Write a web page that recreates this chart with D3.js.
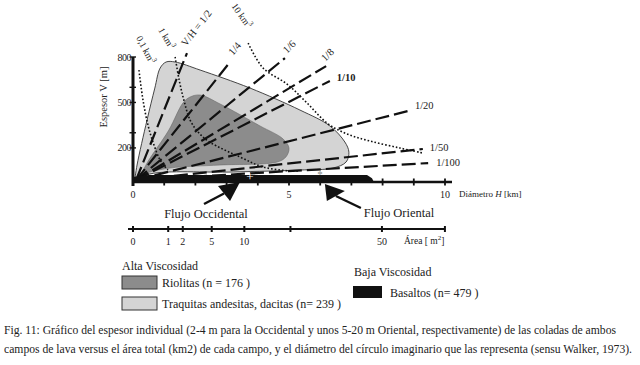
<!DOCTYPE html>
<html>
<head>
<meta charset="utf-8">
<script src="https://cdn.jsdelivr.net/npm/d3@7"></script>
<style>
    body { margin: 0; background: #fff; }
    svg { display: block; }
</style>
</head>
<body>
<div id="chart"></div>
<script>
// ---- data ----
const hTicks = [0, 1, 2, 3, 4, 5, 6, 7, 8, 9, 10];
const hLabels = [0, 5, 10];
const vTicks = [200, 300, 500, 600, 800];
const vLabels = [200, 500, 800];
const areaTicks = [0, 1, 2, 5, 10, 20, 50, 78.5];
const areaLabels = [0, 1, 2, 5, 10, 50];

// V/H ratio lines: end point of each dashed line [H km, V m]
const ratioNames = ["V/H = 1/2", "1/4", "1/6", "1/8", "1/10", "1/20", "1/50", "1/100"];
const ratioEndH = [1.73, 3.11, 4.87, 6.19, 6.31, 8.94, 9.29, 9.46];
const ratioEndV = [826, 767, 793, 740, 642, 450, 193, 100];

// iso-volume curves (dotted)
const volNames = ["0,1", "1", "10"];
const volCurves = [
    [[0.19, 714], [0.32, 516], [0.48, 351], [0.64, 239], [0.87, 120], [1.12, 54]],
    [[1.35, 800], [1.48, 648], [1.63, 516], [1.83, 384], [2.12, 297], [2.47, 237], [3.43, 140], [4.17, 74], [5.03, 48], [5.35, 48]],
    [[3.69, 892], [4.17, 727], [4.94, 621], [5.58, 496], [6.22, 364], [6.86, 292], [7.6, 245], [8.56, 199], [9.29, 166]]
];

// field outlines
const traquitas = [[0.05, -20], [0.13, 87], [0.45, 384], [0.7, 595], [0.87, 727], [1.06, 767], [1.35, 767], [2.15, 714],
    [3.75, 595], [5.35, 450], [6.31, 345], [6.79, 239], [6.92, 172], [6.83, 107], [6.41, 67], [5.35, 54], [3.21, 41], [0.54, 28], [0.05, -20]];
const riolitas = [[0.2, -5], [0.45, 100], [1.15, 318], [1.6, 496], [1.83, 536], [2.15, 549], [2.79, 490], [4.07, 345],
    [4.81, 259], [5.0, 199], [4.9, 140], [4.62, 107], [2.79, 87], [1.19, 67], [0.38, 28], [0.2, -5]];
const basaltos = [[0, -25], [0, 8], [0.5, 21], [7.5, 21], [7.66, 0], [7.72, -25]];

const plusPoint = [3.75, 5];
const starPoint = [5.99, 34];

const flows = ["Flujo Occidental", "Flujo Oriental"];
const flowTips = [[3.43, -25], [6.15, -38]];

const legendAlta = ["Riolitas (n = 176 )", "Traquitas andesitas, dacitas (n= 239 )"];
const legendBaja = ["Basaltos (n= 479 )"];

const caption = [
    "Fig. 11: Gráfico del espesor individual (2-4 m para la Occidental y unos 5-20 m Oriental, respectivamente) de las coladas de ambos",
    "campos de lava versus el área total (km2) de cada campo, y el diámetro del círculo imaginario que las representa (sensu Walker, 1973)."
];

// ---- layout ----
const W = 640, H = 365;
const lightFill = "#d4d4d4", darkFill = "#8c8c8c";
const serif = "'Liberation Serif', 'Times New Roman', serif";

const svg = d3.select("#chart").append("svg")
    .attr("width", W)
    .attr("height", H)
    .attr("font-family", serif)
    .style("font-family", serif)
    .attr("fill", "#222");

const x = d3.scaleLinear().domain([0, 10]).range([133, 445]);
const y = d3.scaleLinear().domain([-25, 800]).range([182, 57]);

const line = d3.line().x(d => x(d[0])).y(d => y(d[1]));
const smooth = d3.line().x(d => x(d[0])).y(d => y(d[1])).curve(d3.curveCatmullRom.alpha(0.5));

// regions
svg.append("path")
    .attr("d", smooth(traquitas) + "Z")
    .attr("fill", lightFill)
    .attr("stroke", "#333")
    .attr("stroke-width", 0.9);

svg.append("path")
    .attr("d", smooth(riolitas) + "Z")
    .attr("fill", darkFill)
    .attr("stroke", "#6a6a6a")
    .attr("stroke-width", 0.6);

// dotted iso-volume curves
svg.selectAll(".vol")
    .data(volCurves)
    .enter().append("path")
    .attr("class", "vol")
    .attr("d", d => smooth(d))
    .attr("fill", "none")
    .attr("stroke", "#111")
    .attr("stroke-width", 1.6)
    .attr("stroke-dasharray", "1.6,2");

// dashed ratio lines
const origin = [0.1, -12];
svg.selectAll(".ratio")
    .data(ratioNames)
    .enter().append("path")
    .attr("class", "ratio")
    .attr("d", (d, i) => line([origin, [ratioEndH[i], ratioEndV[i]]]))
    .attr("fill", "none")
    .attr("stroke", "#111")
    .attr("stroke-width", 2.2)
    .attr("stroke-dasharray", "14,5");

// basalts strip
svg.append("path")
    .attr("d", line(basaltos) + "Z")
    .attr("fill", "#111");

// axes
svg.append("line")
    .attr("x1", x(0)).attr("x2", 452)
    .attr("y1", y(-25)).attr("y2", y(-25))
    .attr("stroke", "#111").attr("stroke-width", 2.6);

svg.selectAll(".htick")
    .data(hTicks)
    .enter().append("line")
    .attr("x1", d => x(d)).attr("x2", d => x(d))
    .attr("y1", y(-25) - 3.5).attr("y2", y(-25) + 3.5)
    .attr("stroke", "#111").attr("stroke-width", 1.8);

svg.selectAll(".hlab")
    .data(hLabels)
    .enter().append("text")
    .attr("x", d => x(d))
    .attr("y", 198)
    .attr("text-anchor", "middle")
    .attr("font-size", 10)
    .text(d => d);

const hTitle = svg.append("text")
    .attr("x", 459)
    .attr("y", 197)
    .attr("font-size", 9);
hTitle.append("tspan").text("Diámetro ");
hTitle.append("tspan").attr("font-style", "italic").text("H");
hTitle.append("tspan").text(" [km]");

svg.append("line")
    .attr("x1", x(0)).attr("x2", x(0))
    .attr("y1", y(800)).attr("y2", y(-25) + 4)
    .attr("stroke", "#111").attr("stroke-width", 3);

svg.selectAll(".vtick")
    .data(vTicks)
    .enter().append("line")
    .attr("x1", x(0) - 3.5).attr("x2", x(0) + 3)
    .attr("y1", d => y(d)).attr("y2", d => y(d))
    .attr("stroke", "#111").attr("stroke-width", 1.4);

svg.selectAll(".vlab")
    .data(vLabels)
    .enter().append("text")
    .attr("x", x(0) - 2)
    .attr("y", d => y(d) + 3.5)
    .attr("text-anchor", "end")
    .attr("font-size", 10)
    .attr("letter-spacing", -0.5)
    .text(d => d);

svg.append("text")
    .attr("transform", "translate(107,97) rotate(-90)")
    .attr("text-anchor", "middle")
    .attr("font-size", 10.5)
    .text("Espesor V [m]");

// ratio labels: [dx, dy, rotation] from line end
const ratioLabelPos = [[-1, -6, -52], [3, -6, -50], [2, -4, -45], [-1, -4, -45], [7, 0, 0], [3, -1, 0], [7, 2, 0], [8, 3, 0]];
svg.selectAll(".rlab")
    .data(ratioNames)
    .enter().append("text")
    .attr("transform", (d, i) => {
        const p = ratioLabelPos[i];
        return "translate(" + (x(ratioEndH[i]) + p[0]) + "," + (y(ratioEndV[i]) + p[1]) + ") rotate(" + p[2] + ")";
    })
    .attr("font-size", 10.5)
    .attr("font-weight", (d, i) => i === 4 ? "bold" : "normal")
    .text(d => d);

// iso-volume labels
const volLabelPos = [[-3, -32, 62], [-17, -27, 60], [-17, -37, 55]];
svg.selectAll(".vlab2")
    .data(volNames)
    .enter().append("text")
    .attr("transform", (d, i) => {
        const p = volLabelPos[i], first = volCurves[i][0];
        return "translate(" + (x(first[0]) + p[0]) + "," + (y(first[1]) + p[1]) + ") rotate(" + p[2] + ")";
    })
    .attr("font-size", 9.5)
    .each(function (d) {
        const t = d3.select(this);
        t.append("tspan").text(d + " km");
        t.append("tspan").attr("dy", -4).attr("font-size", 7).text("3");
    });

// markers on the strip
svg.append("text")
    .attr("x", x(plusPoint[0]))
    .attr("y", y(plusPoint[1]) + 4)
    .attr("text-anchor", "middle")
    .attr("font-size", 13)
    .attr("fill", "#fff")
    .text("+");

svg.append("text")
    .attr("x", x(starPoint[0]))
    .attr("y", y(starPoint[1]) + 5)
    .attr("text-anchor", "middle")
    .attr("font-size", 11)
    .attr("fill", "#888")
    .text("*");

// flow arrows
const flowLayout = [
    { tail: [-36, 22], head: [[-22, 4], [-10, 19]], lx: 206, ly: 218 },
    { tail: [36, 24], head: [[2, 17], [20, 7]], lx: 399, ly: 217 }
];
flows.forEach((name, i) => {
    const tx = x(flowTips[i][0]), ty = y(flowTips[i][1]);
    const L = flowLayout[i];
    svg.append("line")
        .attr("x1", tx + L.tail[0]).attr("y1", ty + L.tail[1])
        .attr("x2", tx + (L.head[0][0] + L.head[1][0]) / 2).attr("y2", ty + (L.head[0][1] + L.head[1][1]) / 2)
        .attr("stroke", "#111").attr("stroke-width", 2.4);
    svg.append("path")
        .attr("d", "M" + tx + "," + ty + "L" + (tx + L.head[0][0]) + "," + (ty + L.head[0][1]) +
            "L" + (tx + L.head[1][0]) + "," + (ty + L.head[1][1]) + "Z")
        .attr("fill", "#111");
    svg.append("text")
        .attr("x", L.lx).attr("y", L.ly)
        .attr("text-anchor", "middle")
        .attr("font-size", 12.5)
        .text(name);
});

// area axis
const areaY = 229;
const ax = a => x(2 * Math.sqrt(a / Math.PI));
svg.append("line")
    .attr("x1", 128).attr("x2", ax(78.5))
    .attr("y1", areaY).attr("y2", areaY)
    .attr("stroke", "#111").attr("stroke-width", 1.8);
svg.selectAll(".atick")
    .data(areaTicks)
    .enter().append("line")
    .attr("x1", d => ax(d)).attr("x2", d => ax(d))
    .attr("y1", areaY - 3).attr("y2", areaY + 3)
    .attr("stroke", "#111").attr("stroke-width", 2);
svg.selectAll(".alab")
    .data(areaLabels)
    .enter().append("text")
    .attr("x", d => ax(d))
    .attr("y", 245)
    .attr("text-anchor", "middle")
    .attr("font-size", 10)
    .text(d => d);
const aTitle = svg.append("text")
    .attr("x", 404)
    .attr("y", 244)
    .attr("font-size", 9.5);
aTitle.append("tspan").text("Área   [ m");
aTitle.append("tspan").attr("dy", -4).attr("font-size", 7).text("2");
aTitle.append("tspan").attr("dy", 4).text("]");

// legend
svg.append("text").attr("x", 122).attr("y", 270).attr("font-size", 12).text("Alta Viscosidad");
const altaFills = [darkFill, lightFill];
legendAlta.forEach((t, i) => {
    svg.append("rect")
        .attr("x", 122).attr("y", 276 + i * 21)
        .attr("width", 35).attr("height", 13)
        .attr("fill", altaFills[i])
        .attr("stroke", "#333").attr("stroke-width", 1);
    svg.append("text")
        .attr("x", 162).attr("y", 287 + i * 21)
        .attr("font-size", 12)
        .text(t);
});
svg.append("text").attr("x", 354).attr("y", 276).attr("font-size", 12).text("Baja Viscosidad");
svg.append("rect")
    .attr("x", 353).attr("y", 286)
    .attr("width", 29).attr("height", 12)
    .attr("fill", "#111");
svg.append("text").attr("x", 390).attr("y", 297).attr("font-size", 12).text(legendBaja[0]);

// caption
const capWidths = [612, 628];
svg.selectAll(".cap")
    .data(caption)
    .enter().append("text")
    .attr("x", 4)
    .attr("y", (d, i) => 334 + i * 19)
    .attr("font-size", 11.5)
    .attr("textLength", (d, i) => capWidths[i])
    .attr("lengthAdjust", "spacingAndGlyphs")
    .text(d => d);
</script>
</body>
</html>
